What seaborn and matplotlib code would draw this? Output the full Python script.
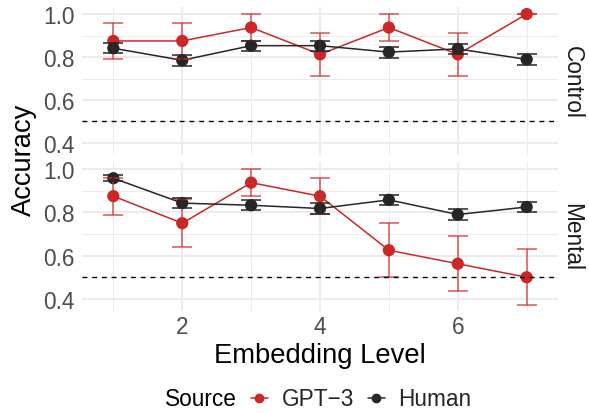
import numpy as np
import pandas as pd
import matplotlib
matplotlib.use("Agg")
import matplotlib.pyplot as plt
import seaborn as sns
from matplotlib.lines import Line2D
from matplotlib.ticker import MultipleLocator

# ---------------- data ----------------
levels = [1, 2, 3, 4, 5, 6, 7]
sources = ["GPT\u22123", "Human"]
conditions = ["Control", "Mental"]

control_gpt3_mean = [0.875, 0.875, 0.9375, 0.8125, 0.9375, 0.8125, 1.0]
control_gpt3_se = [0.085, 0.085, 0.0625, 0.10, 0.0625, 0.10, 0.0]
control_human_mean = [0.841, 0.785, 0.853, 0.853, 0.823, 0.838, 0.789]
control_human_se = [0.024, 0.025, 0.023, 0.023, 0.026, 0.023, 0.027]

mental_gpt3_mean = [0.875, 0.75, 0.9375, 0.875, 0.625, 0.5625, 0.5]
mental_gpt3_se = [0.085, 0.112, 0.0625, 0.083, 0.125, 0.128, 0.13]
mental_human_mean = [0.958, 0.843, 0.833, 0.818, 0.858, 0.790, 0.825]
mental_human_se = [0.015, 0.023, 0.024, 0.025, 0.023, 0.025, 0.025]

chance_level = 0.5

palette = {"GPT\u22123": "#CD2626", "Human": "#262626"}

series = [
    ("Control", "GPT\u22123", control_gpt3_mean, control_gpt3_se),
    ("Control", "Human", control_human_mean, control_human_se),
    ("Mental", "GPT\u22123", mental_gpt3_mean, mental_gpt3_se),
    ("Mental", "Human", mental_human_mean, mental_human_se),
]
rows = []
for cond, src, m, e in series:
    for l, mm, ee in zip(levels, m, e):
        rows.append(dict(level=l, acc=mm, se=ee, source=src, cond=cond))
df = pd.DataFrame(rows)

# ---------------- style ----------------
sns.set_theme(style="white")
plt.rcParams["font.family"] = ["Liberation Sans", "DejaVu Sans"]

TICK = 16.3
TITLE = 19.7
fig = plt.figure(figsize=(5.89, 4.14), dpi=100)
W, H = 589, 414
left, right = 82 / W, 558 / W
ax_top = fig.add_axes([left, 1 - 156 / H, right - left, (156 - 8) / H])
ax_bot = fig.add_axes([left, 1 - 312 / H, right - left, (312 - 163) / H],
                      sharex=ax_top, sharey=ax_top)

for ax, cond in zip([ax_top, ax_bot], conditions):
    sub = df[df.cond == cond]
    sns.lineplot(data=sub, x="level", y="acc", hue="source", hue_order=sources,
                 palette=palette, linewidth=1.1, ax=ax, legend=False, zorder=2,
                 errorbar=None)
    sns.scatterplot(data=sub, x="level", y="acc", hue="source", hue_order=sources,
                    palette=palette, s=78, linewidth=0, ax=ax, legend=False,
                    zorder=3)
    for src in sources:
        s2 = sub[sub.source == src]
        ax.errorbar(s2.level, s2.acc, yerr=s2.se, fmt="none",
                    ecolor=palette[src], elinewidth=1.1, capsize=7.4,
                    capthick=1.1, alpha=0.78 if src != "Human" else 1.0,
                    zorder=4)
    ax.axhline(chance_level, color="black", linewidth=1.0,
               dashes=(3.5, 3.5), zorder=5)
    ax.set_xlim(0.545, 7.455)
    ax.set_ylim(0.344, 1.033)
    ax.xaxis.set_major_locator(MultipleLocator(2))
    ax.xaxis.set_minor_locator(MultipleLocator(1))
    ax.yaxis.set_major_locator(MultipleLocator(0.2))
    ax.yaxis.set_minor_locator(MultipleLocator(0.1))
    ax.grid(which="major", color="#EBEBEB", linewidth=1.4, zorder=0)
    ax.grid(which="minor", color="#EBEBEB", linewidth=0.7, zorder=0)
    ax.set_axisbelow(True)
    for sp in ax.spines.values():
        sp.set_visible(False)
    ax.tick_params(which="both", length=0, labelsize=TICK, labelcolor="#4D4D4D")
    ax.tick_params(axis="y", pad=5.5)
    ax.tick_params(axis="x", pad=3)
    ax.set_xlabel("")
    ax.set_ylabel("")
    ax.yaxis.set_major_formatter(matplotlib.ticker.FormatStrFormatter("%.1f"))

ax_top.tick_params(axis="x", labelbottom=False)
ax_bot.set_xticks([2, 4, 6])

# strip labels
fig.text(572 / W, 1 - 82 / H, "Control", rotation=-90, ha="center", va="center",
         fontsize=TICK, color="#1A1A1A")
fig.text(572 / W, 1 - 237.5 / H, "Mental", rotation=-90, ha="center", va="center",
         fontsize=TICK, color="#1A1A1A")

# axis titles
fig.text(320 / W, 1 - 363 / H, "Embedding Level", ha="center", va="baseline",
         fontsize=TITLE, color="black")
fig.text(23.5 / W, 1 - 160 / H, "Accuracy", rotation=90, ha="center", va="center",
         fontsize=TITLE, color="black")

# legend
fig.text(165 / W, 1 - 400 / H, "Source", ha="left", va="center",
         fontsize=TICK, color="black")
handles = [Line2D([0], [0], color=palette[s], marker="o", markersize=6,
                  linewidth=1.1) for s in sources]
fig.legend(handles, sources, loc="center left", bbox_to_anchor=(251 / W, 1 - 400 / H),
           ncol=2, frameon=False, fontsize=TICK, handlelength=0.75,
           handletextpad=0.6, columnspacing=0.6, borderpad=0, borderaxespad=0)

fig.savefig("out.png", dpi=100)
